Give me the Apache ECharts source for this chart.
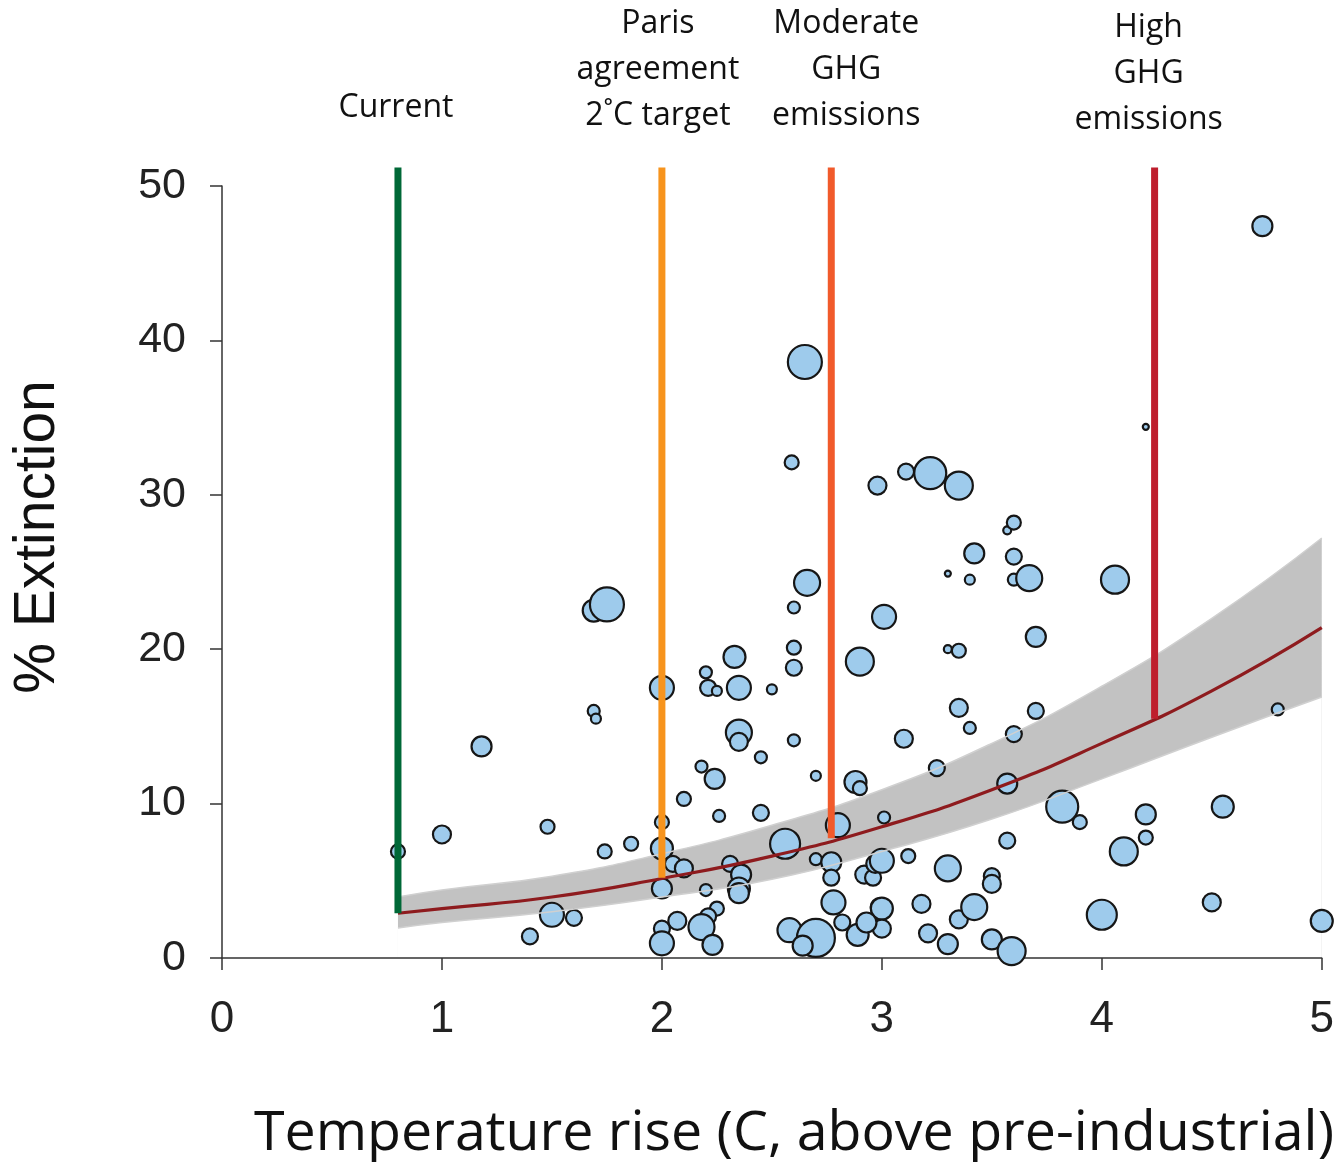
<!DOCTYPE html>
<html>
<head>
<meta charset="utf-8">
<script src="https://cdn.jsdelivr.net/npm/echarts@6/dist/echarts.min.js"></script>
<style>html,body{margin:0;padding:0;background:#fff}#c{width:1337px;height:1162px}</style>
</head>
<body>
<div id="c"></div>
<script>
// ---- data ----
var temperature = [0.80,1.00,1.18,1.40,1.50,1.60,1.48,1.69,1.75,1.69,1.70,1.74,1.86,2.00,2.00,2.00,2.00,2.00,2.00,2.05,2.10,2.07,2.10,2.18,2.20,2.21,2.25,2.24,2.26,2.33,2.35,2.35,2.35,2.45,2.45,2.20,2.25,2.21,2.18,2.23,2.31,2.36,2.35,2.35,2.50,2.56,2.59,2.65,2.60,2.60,2.60,2.60,2.66,2.70,2.58,2.70,2.64,2.70,2.77,2.77,2.80,2.78,2.82,2.89,2.88,2.90,2.90,2.92,2.96,2.97,3.00,2.99,3.00,3.00,2.93,2.98,3.01,3.01,3.11,3.22,3.35,3.10,3.12,3.18,3.21,3.25,3.30,3.30,3.30,3.35,3.35,3.40,3.40,3.42,3.30,3.35,3.42,3.50,3.50,3.50,3.59,3.57,3.57,3.57,3.60,3.60,3.60,3.67,3.60,3.70,3.70,3.82,3.90,4.06,4.20,4.20,4.20,4.10,4.00,4.50,4.55,4.73,4.80,5.00];
var extinction = [6.9,8.0,13.7,1.4,2.8,2.6,8.5,22.5,22.9,16.0,15.5,6.9,7.4,17.5,8.8,7.1,4.5,1.9,0.95,6.1,5.8,2.4,10.3,12.4,18.5,17.5,17.3,11.6,9.2,19.5,17.5,14.6,14.0,13.0,9.4,4.4,3.2,2.7,2.0,0.85,6.1,5.4,4.5,4.2,17.4,7.4,32.1,38.6,22.7,20.1,18.8,14.1,24.3,11.8,1.8,1.3,0.8,6.4,6.2,5.2,8.6,3.6,2.3,1.5,11.4,11.0,19.2,5.4,5.2,6.1,6.3,3.3,3.2,1.9,2.3,30.6,22.1,9.1,31.5,31.4,30.6,14.2,6.6,3.5,1.6,12.3,5.8,24.9,20.0,19.9,16.2,14.9,24.5,26.2,0.9,2.5,3.3,5.3,4.8,1.2,0.45,7.6,11.3,27.7,28.2,26.0,24.5,24.6,14.5,20.8,16.0,9.8,8.8,24.5,34.4,9.3,7.8,6.9,2.8,3.6,9.8,47.4,16.1,2.4];
var studyWeight = [7,9,10,8,12,8,7,11,17,6,5,7,7,12,7,11,10,8,12,8,9,9,7,6,6,8,5,10,6,11,12,13,9,6,8,6,7,8,13,10,8,10,11,10,5,15,7,17,6,7,8,6,13,5,12,19,10,6,10,8,12,12,8,11,11,7,14,9,8,9,12,9,11,9,10,9,12,6,8,16,14,9,7,9,9,8,13,3,4,7,9,6,5,10,10,9,13,8,9,10,14,8,10,4,7,8,6,13,8,10,8,16,7,14,3,10,7,14,15,9,11,10,6,11];

// fitted curve and confidence band
var fitTemp  = [0.8, 1.0, 1.5, 2.0, 2.5, 3.0, 3.5, 4.0, 4.5, 5.0];
var fitMid   = [2.9, 3.2, 3.95, 5.15, 6.6, 8.5, 10.9, 13.9, 17.3, 21.4];
var fitUpper = [3.95, 4.4, 5.3, 6.75, 8.6, 10.9, 13.9, 17.6, 22.0, 27.2];
var fitLower = [1.95, 2.3, 3.0, 3.95, 5.1, 6.9, 9.0, 11.6, 14.3, 16.9];

// scenario markers
var scenarioNames  = ['Current', 'Paris\nagreement\n2˚C target', 'Moderate\nGHG\nemissions', 'High\nGHG\nemissions'];
var scenarioTemp   = [0.80, 2.00, 2.77, 4.24];
var scenarioBottom = [2.9, 5.2, 7.75, 15.5];
var scenarioTop    = 51.2;

var xTicks = [0, 1, 2, 3, 4, 5];
var yTicks = [0, 10, 20, 30, 40, 50];

// ---- chart ----
var chart = echarts.init(document.getElementById('c'), null, {renderer: 'canvas'});

function pairs(xs, ys) { return xs.map(function (x, i) { return [x, ys[i]]; }); }
var bubbleData = temperature.map(function (t, i) { return [t, extinction[i], studyWeight[i]]; });

var scenarioColors = ['#006837', '#f7941d', '#f15a2b', '#be1e2d'];
var labelOffsets = [[-2, -37], [-4, -29], [15, -29], [-6, -25]];

var series = [
  // band: gray area to axis under the upper bound, masked by a white area under the lower bound
  {type: 'line', data: pairs(fitTemp, fitUpper), smooth: true, symbol: 'none', silent: true,
   lineStyle: {opacity: 0}, areaStyle: {color: '#c2c2c2', opacity: 1, origin: 'start'}, z: 1},
  {type: 'line', data: pairs(fitTemp, fitLower), smooth: true, symbol: 'none', silent: true,
   lineStyle: {opacity: 0}, areaStyle: {color: '#ffffff', opacity: 1, origin: 'start'}, z: 2},
  {type: 'scatter', data: bubbleData, clip: false, z: 4,
   symbolSize: function (d) { return d[2] * 2; },
   itemStyle: {color: '#9ecbec', borderColor: '#161616', borderWidth: 2.2, opacity: 1}},
  {type: 'line', data: pairs(fitTemp, fitUpper), smooth: true, symbol: 'none', z: 5, silent: true,
   lineStyle: {color: '#d0d0d0', width: 1.5}},
  {type: 'line', data: pairs(fitTemp, fitLower), smooth: true, symbol: 'none', z: 5, silent: true,
   lineStyle: {color: '#d0d0d0', width: 1.5}},
  {type: 'line', data: pairs(fitTemp, fitMid), smooth: true, symbol: 'none', z: 6, clip: false,
   lineStyle: {color: '#8e1b1e', width: 3.2}}
];

scenarioNames.forEach(function (name, i) {
  series.push({
    type: 'line', z: 7, clip: false, symbol: 'none', silent: true,
    lineStyle: {color: scenarioColors[i], width: 7, cap: 'butt'},
    data: [[scenarioTemp[i], scenarioBottom[i]], [scenarioTemp[i], scenarioTop]]
  });
});

var axisFont = "'Liberation Sans', Arial, Helvetica, sans-serif";

chart.setOption({
  animation: false,
  backgroundColor: '#ffffff',
  grid: {left: 222, top: 186, width: 1100, height: 772, containLabel: false},
  xAxis: {
    type: 'value', min: 0, max: 5, interval: 1, z: 3,
    axisLine: {show: true, onZero: false, lineStyle: {color: '#333', width: 1.5}},
    axisTick: {show: true, length: 12, lineStyle: {color: '#333', width: 1.5}},
    axisLabel: {margin: 40, fontSize: 44, fontFamily: axisFont, color: '#222',
                formatter: function (v) { return xTicks.indexOf(v) >= 0 ? String(v) : ''; }},
    splitLine: {show: false}
  },
  yAxis: {
    type: 'value', min: 0, max: 50, interval: 10, z: 3,
    axisLine: {show: true, onZero: false, lineStyle: {color: '#333', width: 1.5}},
    axisTick: {show: true, length: 12, lineStyle: {color: '#333', width: 1.5}},
    axisLabel: {margin: 36, fontSize: 43, fontFamily: axisFont, color: '#222',
                formatter: function (v) { return yTicks.indexOf(v) >= 0 ? String(v) : ''; }},
    splitLine: {show: false}
  },
  series: series
});

// axis titles and scenario labels (scenario labels placed at their line tops via the axes)
var graphics = [
  {type: 'text', x: 38, y: 537, rotation: Math.PI / 2,
   style: {text: '% Extinction', fontSize: 57, fontFamily: axisFont, fill: '#111',
           textAlign: 'center', textVerticalAlign: 'middle'}},
  {type: 'text', x: 794, y: 1134,
   style: {text: 'Temperature rise (C, above pre-industrial)', fontSize: 55.5,
           fontFamily: "'Open Sans', sans-serif", fill: '#111',
           textAlign: 'center', textVerticalAlign: 'middle'}}
];
scenarioNames.forEach(function (name, i) {
  var p = chart.convertToPixel({gridIndex: 0}, [scenarioTemp[i], scenarioTop]);
  graphics.push({type: 'text', x: p[0] + labelOffsets[i][0], y: p[1] + labelOffsets[i][1],
    style: {text: name, fontSize: 32, lineHeight: 46, fontFamily: "'Open Sans', sans-serif",
            fill: '#111', textAlign: 'center', textVerticalAlign: 'bottom'}});
});
chart.setOption({graphic: graphics});
</script>
</body>
</html>
